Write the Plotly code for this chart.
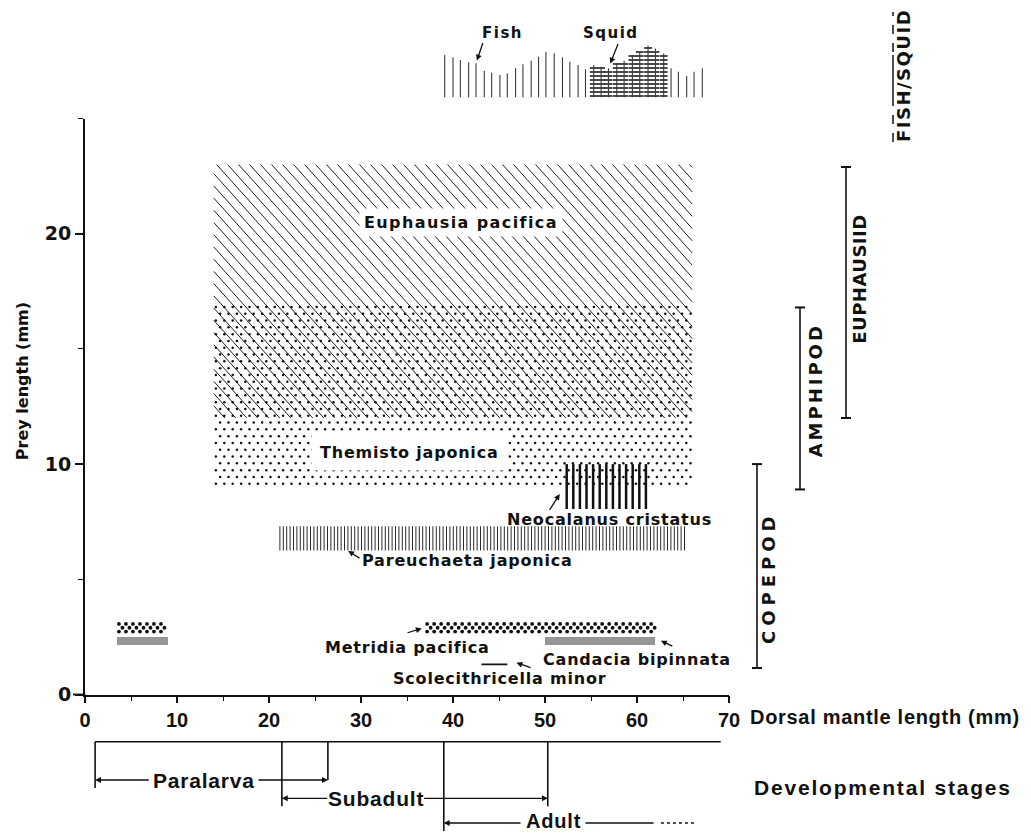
import math
import plotly.graph_objects as go

# ---------------- data ----------------
# prey length ranges (mm) against squid dorsal mantle length (mm)
prey_species = ["Euphausia pacifica", "Themisto japonica", "Neocalanus cristatus",
                "Pareuchaeta japonica", "Metridia pacifica", "Metridia pacifica",
                "Candacia bipinnata", "Candacia bipinnata"]
prey_dml_min = [14.0, 14.0, 52.0, 21.0, 3.5, 37.0, 3.5, 50.0]
prey_dml_max = [66.0, 66.0, 61.0, 65.5, 9.0, 62.0, 9.0, 62.0]
prey_len_min = [12.0, 9.0, 8.05, 6.25, 2.65, 2.65, 2.15, 2.15]
prey_len_max = [23.0, 17.0, 10.0, 7.3, 3.15, 3.15, 2.5, 2.5]

scolecithricella_dml = [43.1, 45.9]
scolecithricella_len = [1.31, 1.31]

label_text = ["Euphausia pacifica", "Themisto japonica", "Neocalanus cristatus",
              "Pareuchaeta japonica", "Metridia pacifica", "Candacia bipinnata",
              "Scolecithricella minor"]
label_dml = [40.9, 35.3, 57.0, 41.6, 35.1, 60.0, 45.0]
label_len = [20.5, 10.5, 7.6, 5.8, 2.04, 1.5, 0.68]

# pointer arrows (head / tail) for the smaller taxa
arrow_head_dml = [51.6, 28.6, 36.6, 62.6, 46.9]
arrow_head_len = [8.7, 6.23, 2.87, 2.33, 1.38]
arrow_tail_dml = [50.4, 30.0, 34.9, 64.0, 48.6]
arrow_tail_len = [7.95, 5.88, 2.66, 2.07, 1.14]

# prey-group brackets
group_names = ["COPEPOD", "AMPHIPOD", "EUPHAUSIID"]
group_len_min = [1.15, 8.9, 12.0]
group_len_max = [10.0, 16.8, 22.9]
group_label_len = [5.06, 13.2, 18.0]

# fish / squid occurrence profile (relative units) along mantle length
fish_dml = [39.1, 40.0, 40.8, 41.7, 42.5, 43.4, 44.2, 45.1, 45.9, 46.8,
            47.6, 48.5, 49.3, 50.1, 51.0, 51.9, 52.7, 53.6, 54.4, 55.3,
            56.1, 56.9, 57.8, 58.6, 59.5, 60.3, 61.2, 62.0, 62.9, 63.7,
            64.5, 65.4, 66.2, 67.1]
fish_abund = [42.5, 40.2, 37.5, 35.2, 34.2, 26.8, 24.8, 22.5, 24.2, 29.2,
              33.2, 36.8, 40.8, 45.8, 44.2, 40.2, 35.8, 32.5, 28.2, 32.5,
              30.8, 29.2, 34.2, 36.8, 42.0, 46.0, 52.0, 49.0, 44.0, 29.2,
              25.8, 21.5, 25.8, 29.2]
squid_dml = [55.3, 56.1, 56.9, 57.8, 58.6, 59.5, 60.3, 61.2, 62.0, 62.9]
squid_abund = [32.5, 30.8, 29.2, 34.2, 36.8, 42.0, 46.0, 52.0, 49.0, 44.0]

# developmental stages
stage_names = ["Paralarva", "Subadult", "Adult"]
stage_start = [1.1, 21.4, 39.0]
stage_end = [26.4, 50.3, None]
stage_label_dml = [12.9, 31.6, 50.9]
stage_axis_start, stage_axis_end = 1.1, 69.1
adult_solid_end, adult_dotted_end = 61.8, 66.5

x_ticks = [0, 10, 20, 30, 40, 50, 60, 70]
x_minor = [5, 15, 25, 35, 45, 55, 65]
y_ticks = [0, 10, 20]
y_minor = [5, 15, 25]

# ---------------- geometry / style ----------------
OFF = 8                      # page body margin
FW, FH = 1031 - OFF, 833 - OFF
L = 85 - OFF
R = FW - (729 - OFF)
PW = FW - L - R
XS = PW / 70.0               # px per mm (x)
YS = (694.5 - 118.5) / 25.0  # px per mm (y)


def py(p):
    return (FH - (p - OFF)) / FH


def pxp(p):
    return (p - OFF - L) / PW


BOLD = "DejaVu Sans"
NARROW = "Liberation Sans Narrow, Liberation Sans, Arial Narrow, sans-serif"
INK = "#111111"


def sp(text, ls):
    return '<span style="letter-spacing:%.1fpx">%s</span>' % (ls, text)


def diag_hatch(x0, x1, y0, y1, spacing_px, angle_deg):
    slope = math.tan(math.radians(angle_deg)) * XS / YS
    step = spacing_px / XS
    span = (y1 - y0) / slope
    xs, ys = [], []
    c = x0 - span
    while c <= x1:
        xa, xb = max(c, x0), min(c + span, x1)
        if xb > xa:
            xs += [xa, xb, None]
            ys += [y1 - slope * (xa - c), y1 - slope * (xb - c), None]
        c += step
    return xs, ys


def vlines(x0, x1, y0, y1, spacing_px):
    step = spacing_px / XS
    xs, ys = [], []
    x = x0 + step / 2
    while x < x1:
        xs += [x, x, None]
        ys += [y0, y1, None]
        x += step
    return xs, ys


def dot_grid(x0, x1, y0, y1, dx_px, dy_px):
    dx, dy = dx_px / XS, dy_px / YS
    xs, ys = [], []
    y, k = y0 + dy / 2, 0
    while y < y1:
        x = x0 + (dx * 0.75 if k % 2 else dx / 4)
        while x < x1:
            xs.append(x)
            ys.append(y)
            x += dx
        y += dy
        k += 1
    return xs, ys


fig = go.Figure()


def add_lines(xs, ys, width, color, yaxis="y", dash=None):
    fig.add_trace(go.Scatter(x=xs, y=ys, mode="lines", xaxis="x", yaxis=yaxis,
                             line=dict(color=color, width=width, dash=dash),
                             showlegend=False, hoverinfo="skip"))


def add_dots(xs, ys, size, color):
    fig.add_trace(go.Scatter(x=xs, y=ys, mode="markers", xaxis="x", yaxis="y",
                             marker=dict(size=size, color=color, line=dict(width=0)),
                             showlegend=False, hoverinfo="skip"))


# prey ranges, each with its own texture
for sp_name, a, b, lo, hi in zip(prey_species, prey_dml_min, prey_dml_max, prey_len_min, prey_len_max):
    if sp_name == "Euphausia pacifica":
        add_lines(*diag_hatch(a, b, lo, hi, 11, 48), 1.0, "#1e1e1e")
    elif sp_name == "Themisto japonica":
        add_dots(*dot_grid(a, b, lo, hi, 8.4, 6.8), 2.5, "#111111")
    elif sp_name == "Neocalanus cristatus":
        add_lines(*vlines(a, b, lo, hi, 6.6), 2.5, "#111111")
    elif sp_name == "Pareuchaeta japonica":
        add_lines(*vlines(a, b, lo, hi, 3.4), 1.0, "#2a2a2a")
    elif sp_name == "Metridia pacifica":
        add_dots(*dot_grid(a, b, lo, hi, 7.0, 3.8), 3.8, "#111111")
    elif sp_name == "Candacia bipinnata":
        fig.add_trace(go.Bar(x=[(a + b) / 2], y=[hi - lo], base=[lo], width=[b - a],
                             marker=dict(color="#969696", line=dict(width=0)),
                             xaxis="x", yaxis="y", showlegend=False, hoverinfo="skip"))

add_lines(scolecithricella_dml, scolecithricella_len, 1.8, INK)

# squid (horizontal hatching) and fish (vertical lines)
col_w = 0.85
hx, hy = [], []
for x, h in zip(squid_dml, squid_abund):
    lev = 1.5
    while lev <= h:
        hx += [x - col_w / 2, x + col_w / 2, None]
        hy += [lev, lev, None]
        lev += 4
add_lines(hx, hy, 1.6, "#111111", yaxis="y2")
fx, fy = [], []
for x, h in zip(fish_dml, fish_abund):
    fx += [x, x, None]
    fy += [0, h, None]
add_lines(fx, fy, 1.1, "#3a3a3a", yaxis="y2")

# developmental stages
row = [53, 34.7, 10]
top = 91.3
sx, sy = [stage_axis_start, stage_axis_end, None], [top, top, None]
for i in range(3):
    sx += [stage_start[i], stage_start[i], None]
    sy += [top, max(row[i] - 8, 0), None]
    if stage_end[i] is not None:
        sx += [stage_end[i], stage_end[i], None]
        sy += [top, row[i] - (0 if i == 0 else 8), None]
sx += [54.4, adult_solid_end]
sy += [row[2], row[2]]
add_lines(sx, sy, 1.6, INK, yaxis="y3")
add_lines([adult_solid_end + 0.8, adult_dotted_end], [row[2], row[2]], 1.6, INK, yaxis="y3", dash="dot")

ann = []
shapes = []


def arrow(xh, yh, xt, yt, yref, head=2, size=0.9, width=1.3):
    return dict(x=xh, y=yh, ax=xt, ay=yt, xref="x", yref=yref, axref="x", ayref=yref,
                text="", showarrow=True, arrowhead=head, arrowsize=size,
                arrowwidth=width, arrowcolor=INK)


# species labels
for i, (t, x, y) in enumerate(zip(label_text, label_dml, label_len)):
    a = dict(x=x, y=y, xref="x", yref="y", xanchor="center", yanchor="middle",
             text=sp(t, 1.4 if i == 0 else 0.8), showarrow=False,
             font=dict(family=BOLD, size=16, color=INK, weight="bold"))
    if i == 0:
        a.update(bgcolor="white", borderpad=4)
    if i == 1:
        a.update(bgcolor="white", borderpad=8)
    ann.append(a)
for xh, yh, xt, yt in zip(arrow_head_dml, arrow_head_len, arrow_tail_dml, arrow_tail_len):
    ann.append(arrow(xh, yh, xt, yt, "y"))

# stage labels & arrows
half_w = [5.8, 5.1, 3.4]
for i, nm in enumerate(stage_names):
    c = stage_label_dml[i]
    yy = row[i] + (2 if i == 2 else 0)
    ann.append(dict(x=c, y=yy, xref="x", yref="y3", xanchor="center", yanchor="middle",
                    text=sp(nm, 0.8), showarrow=False,
                    font=dict(family=NARROW, size=20 if i == 2 else 21, color=INK, weight="bold")))
    ann.append(arrow(stage_start[i], row[i], c - half_w[i], row[i], "y3"))
    if stage_end[i] is not None:
        ann.append(arrow(stage_end[i], row[i], c + half_w[i], row[i], "y3"))

ann.append(dict(x=pxp(752), y=py(787), xref="paper", yref="paper", xanchor="left",
                yanchor="middle", text=sp("Developmental stages", 1.8), showarrow=False,
                font=dict(family=NARROW, size=21, color=INK, weight="bold")))
ann.append(dict(x=pxp(748), y=py(717), xref="paper", yref="paper", xanchor="left",
                yanchor="middle", text=sp("Dorsal mantle length (mm)", 0.7), showarrow=False,
                font=dict(family=NARROW, size=20, color=INK, weight="bold")))
ann.append(dict(x=pxp(22), y=13.6, xref="paper", yref="y", xanchor="center", yanchor="middle",
                textangle=-90, text="Prey length (mm)", showarrow=False,
                font=dict(family=BOLD, size=16, color=INK, weight="bold")))

# fish / squid labels
ann.append(dict(x=45.4, y=64.5, xref="x", yref="y2", xanchor="center", yanchor="middle",
                text=sp("Fish", 1.5), showarrow=False,
                font=dict(family=BOLD, size=15, color=INK, weight="bold")))
ann.append(dict(x=57.2, y=64.5, xref="x", yref="y2", xanchor="center", yanchor="middle",
                text=sp("Squid", 1.5), showarrow=False,
                font=dict(family=BOLD, size=15, color=INK, weight="bold")))
ann.append(arrow(42.6, 37.0, 43.3, 56.0, "y2"))
ann.append(arrow(57.1, 34.0, 58.0, 55.0, "y2"))

# group brackets
gx = [757, 800, 846]
gl = [769, 815, 860]
gls = [5.0, 3.0, 0.5]
for g, x, xl, lo, hi, ly, ls in zip(group_names, gx, gl, group_len_min, group_len_max,
                                    group_label_len, gls):
    shapes.append(dict(type="line", xref="paper", yref="y", x0=pxp(x), x1=pxp(x), y0=lo, y1=hi,
                       line=dict(color=INK, width=1.6)))
    for yy in (lo, hi):
        shapes.append(dict(type="line", xref="paper", yref="y", x0=pxp(x - 5), x1=pxp(x + 5),
                           y0=yy, y1=yy, line=dict(color=INK, width=2)))
    ann.append(dict(x=pxp(xl), y=ly, xref="paper", yref="y", xanchor="center", yanchor="middle",
                    text=sp(g, ls), textangle=-90, showarrow=False,
                    font=dict(family=BOLD, size=18, color=INK, weight="bold")))

ann.append(dict(x=pxp(904), y=py(76), xref="paper", yref="paper", xanchor="center",
                yanchor="middle", text=sp("FISH/SQUID", 1.5), textangle=-90, showarrow=False,
                font=dict(family=BOLD, size=18, color=INK, weight="bold")))
shapes.append(dict(type="line", xref="paper", yref="paper", x0=pxp(893), x1=pxp(893),
                   y0=py(142), y1=py(100), line=dict(color=INK, width=1.5, dash="dash")))
shapes.append(dict(type="line", xref="paper", yref="paper", x0=pxp(893), x1=pxp(893),
                   y0=py(100), y1=py(55), line=dict(color=INK, width=1.5)))
shapes.append(dict(type="line", xref="paper", yref="paper", x0=pxp(893), x1=pxp(893),
                   y0=py(52), y1=py(12), line=dict(color=INK, width=1.5, dash="dash")))

# small axis overhangs
shapes.append(dict(type="line", xref="paper", yref="paper", x0=pxp(73), x1=0,
                   y0=py(694.5), y1=py(694.5), line=dict(color=INK, width=1.8)))
shapes.append(dict(type="line", xref="paper", yref="paper", x0=0, x1=0,
                   y0=py(694.5), y1=py(703), line=dict(color=INK, width=1.8)))

fig.update_layout(
    width=FW, height=FH,
    margin=dict(l=L, r=R, t=0, b=0, autoexpand=False),
    paper_bgcolor="white", plot_bgcolor="white",
    barmode="overlay", bargap=0,
    showlegend=False,
    xaxis=dict(range=[0, 70], domain=[0, 1], anchor="y", showgrid=False, zeroline=False,
               showline=True, linecolor=INK, linewidth=1.8,
               tickmode="array", tickvals=x_ticks, ticks="outside", ticklen=7, tickwidth=1.6,
               tickcolor=INK,
               minor=dict(tickvals=x_minor, ticks="outside", ticklen=5, tickwidth=1.4, tickcolor=INK),
               tickfont=dict(family=NARROW, size=20, color=INK, weight="bold"),
               automargin=False, fixedrange=True),
    yaxis=dict(range=[0, 25], domain=[py(694.5), py(118.5)], anchor="x", showgrid=False,
               zeroline=False, showline=True, linecolor=INK, linewidth=1.8,
               tickmode="array", tickvals=y_ticks, ticks="outside", ticklen=8, tickwidth=1.6,
               tickcolor=INK,
               minor=dict(tickvals=y_minor, ticks="outside", ticklen=5, tickwidth=1.4, tickcolor=INK),
               tickfont=dict(family=BOLD, size=19, color=INK, weight="bold"),
               automargin=False, fixedrange=True),
    yaxis2=dict(range=[0, 70], domain=[py(97.5), py(27.5)], anchor="x", visible=False,
                fixedrange=True),
    yaxis3=dict(range=[0, 98], domain=[0, py(735)], anchor="x", visible=False, fixedrange=True),
    annotations=ann,
    shapes=shapes,
)

fig.write_html("out.html")
